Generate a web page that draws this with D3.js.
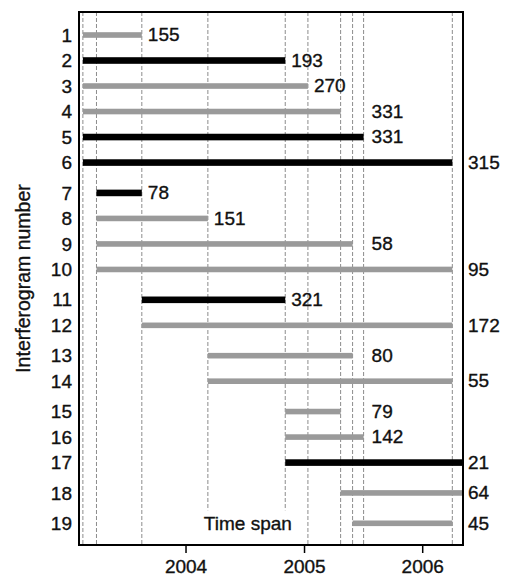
<!DOCTYPE html>
<meta charset="utf-8">
<style>
body { margin: 0; background: #fff; }
text {
  font-family: "Liberation Sans", Arial, sans-serif;
  fill: #111;
  stroke: #111;
  stroke-width: 0.35px;
}
.frame {
  fill: none;
  stroke: #000;
  stroke-width: 2px;
}
.date-line {
  stroke: #8c8c8c;
  stroke-width: 1px;
  stroke-dasharray: 4,2;
}
.axis path { display: none; }
.axis line { stroke: #000; stroke-width: 1.5px; }
</style>
<body>
<script src="https://d3js.org/d3.v7.min.js"></script>
<script>
// acquisition dates (estimated from the figure)
var acqDates = ["2003-02-18", "2003-04-01", "2003-08-19", "2004-03-10", "2004-11-04",
                "2005-01-13", "2005-04-24", "2005-05-31", "2005-07-04", "2006-04-04",
                "2006-05-07"];
// one entry per interferogram: index of first and second acquisition
var ifgNumber = [1, 2, 3, 4, 5, 6, 7, 8, 9, 10, 11, 12, 13, 14, 15, 16, 17, 18, 19];
var ifgStart  = [0, 0, 0, 0, 0, 0, 1, 1, 1, 1, 2, 2, 3, 3, 4, 4, 4, 6, 7];
var ifgEnd    = [2, 4, 5, 6, 8, 9, 2, 3, 7, 9, 4, 9, 7, 9, 6, 8, 10, 10, 9];
var baseline  = [155, 193, 270, 331, 331, 315, 78, 151, 58, 95, 321, 172, 80, 55, 79, 142, 21, 64, 45];
var isBlack   = [0, 1, 0, 0, 1, 1, 1, 0, 0, 0, 1, 0, 0, 0, 0, 0, 1, 0, 0];
var yearTicks = ["2004-01-01", "2005-01-01", "2006-01-01"];

var width = 511,
    height = 577;
var mLeft = 79, mRight = 463, mTop = 12, mBottom = 545;

var parse = d3.timeParse("%Y-%m-%d");
var dates = acqDates.map(parse);

var svg = d3.select("body").append("svg")
    .attr("width", width)
    .attr("height", height);

var x = d3.scaleTime()
    .domain([parse("2003-02-06"), parse("2006-05-07")])
    .range([mLeft, mRight]);

// rows sharing a first acquisition sit together; a small gap between groups
var groupGap = 0.19;
var starts = Array.from(new Set(ifgStart));
var rows = ifgNumber.map(function(n, i) {
  return {
    num: n,
    start: dates[ifgStart[i]],
    end: dates[ifgEnd[i]],
    endIdx: ifgEnd[i],
    bl: baseline[i],
    black: isBlack[i],
    slot: i + starts.indexOf(ifgStart[i]) * groupGap
  };
});

var y = d3.scaleLinear()
    .domain([0, 18 + (starts.length - 1) * groupGap])
    .range([35, 523.3]);

// "Time span" note
var noteX = x(dates[3]) - 4;
var noteY = y(rows[18].slot);
var note = svg.append("text")
    .attr("x", noteX)
    .attr("y", noteY)
    .attr("dy", "0.35em")
    .style("font-size", "19px")
    .text("Time span");
var noteEnd = noteX + note.node().getComputedTextLength();

// dashed lines at each acquisition
svg.selectAll(".date-line")
    .data(dates.slice(0, 10))
  .enter().append("line")
    .attr("class", "date-line")
    .attr("x1", function(d) { return x(d); })
    .attr("x2", function(d) { return x(d); })
    .attr("y1", mTop)
    .attr("y2", function(d) {
      var px = x(d);
      return (px > noteX - 6 && px < noteEnd + 15) ? noteY - 13 : mBottom;
    });

// bars
svg.selectAll(".bar")
    .data(rows)
  .enter().append("rect")
    .attr("class", "bar")
    .attr("x", function(d) { return x(d.start); })
    .attr("width", function(d) { return x(d.end) - x(d.start); })
    .attr("y", function(d) { return y(d.slot) - (d.black ? 3.3 : 2.8); })
    .attr("height", function(d) { return d.black ? 6.6 : 5.6; })
    .attr("fill", function(d) { return d.black ? "#000" : "#9a9a9a"; });

// baseline labels
svg.selectAll(".bl")
    .data(rows)
  .enter().append("text")
    .attr("class", "bl")
    .attr("x", function(d) {
      if (d.endIdx >= 9) return mRight + 5;
      if (d.endIdx >= 6) return x(dates[8]) + 8;
      return x(d.end) + 6;
    })
    .attr("y", function(d) { return y(d.slot); })
    .attr("dy", "0.33em")
    .style("font-size", "19px")
    .text(function(d) { return d.bl; });

// row numbers
svg.selectAll(".rownum")
    .data(rows)
  .enter().append("text")
    .attr("class", "rownum")
    .attr("x", 72)
    .attr("y", function(d) { return y(d.slot); })
    .attr("dy", "0.35em")
    .attr("text-anchor", "end")
    .style("font-size", "19px")
    .text(function(d) { return d.num; });

// frame
svg.append("rect")
    .attr("class", "frame")
    .attr("x", mLeft)
    .attr("y", mTop)
    .attr("width", mRight - mLeft)
    .attr("height", mBottom - mTop);

// x axis
var xAxis = svg.append("g")
    .attr("class", "axis")
    .attr("transform", "translate(0," + mBottom + ")")
    .call(d3.axisBottom(x)
      .tickValues(yearTicks.map(parse))
      .tickSize(8)
      .tickPadding(7)
      .tickFormat(d3.timeFormat("%Y")));
xAxis.selectAll("text")
    .style("font-size", "19px")
    .style("font-family", "Liberation Sans, Arial, sans-serif")
    .attr("fill", "#111");

// y title
svg.append("text")
    .attr("transform", "translate(30," + ((mTop + mBottom) / 2) + ") rotate(-90)")
    .attr("text-anchor", "middle")
    .style("font-size", "19.5px")
    .text("Interferogram number");
</script>
</body>
